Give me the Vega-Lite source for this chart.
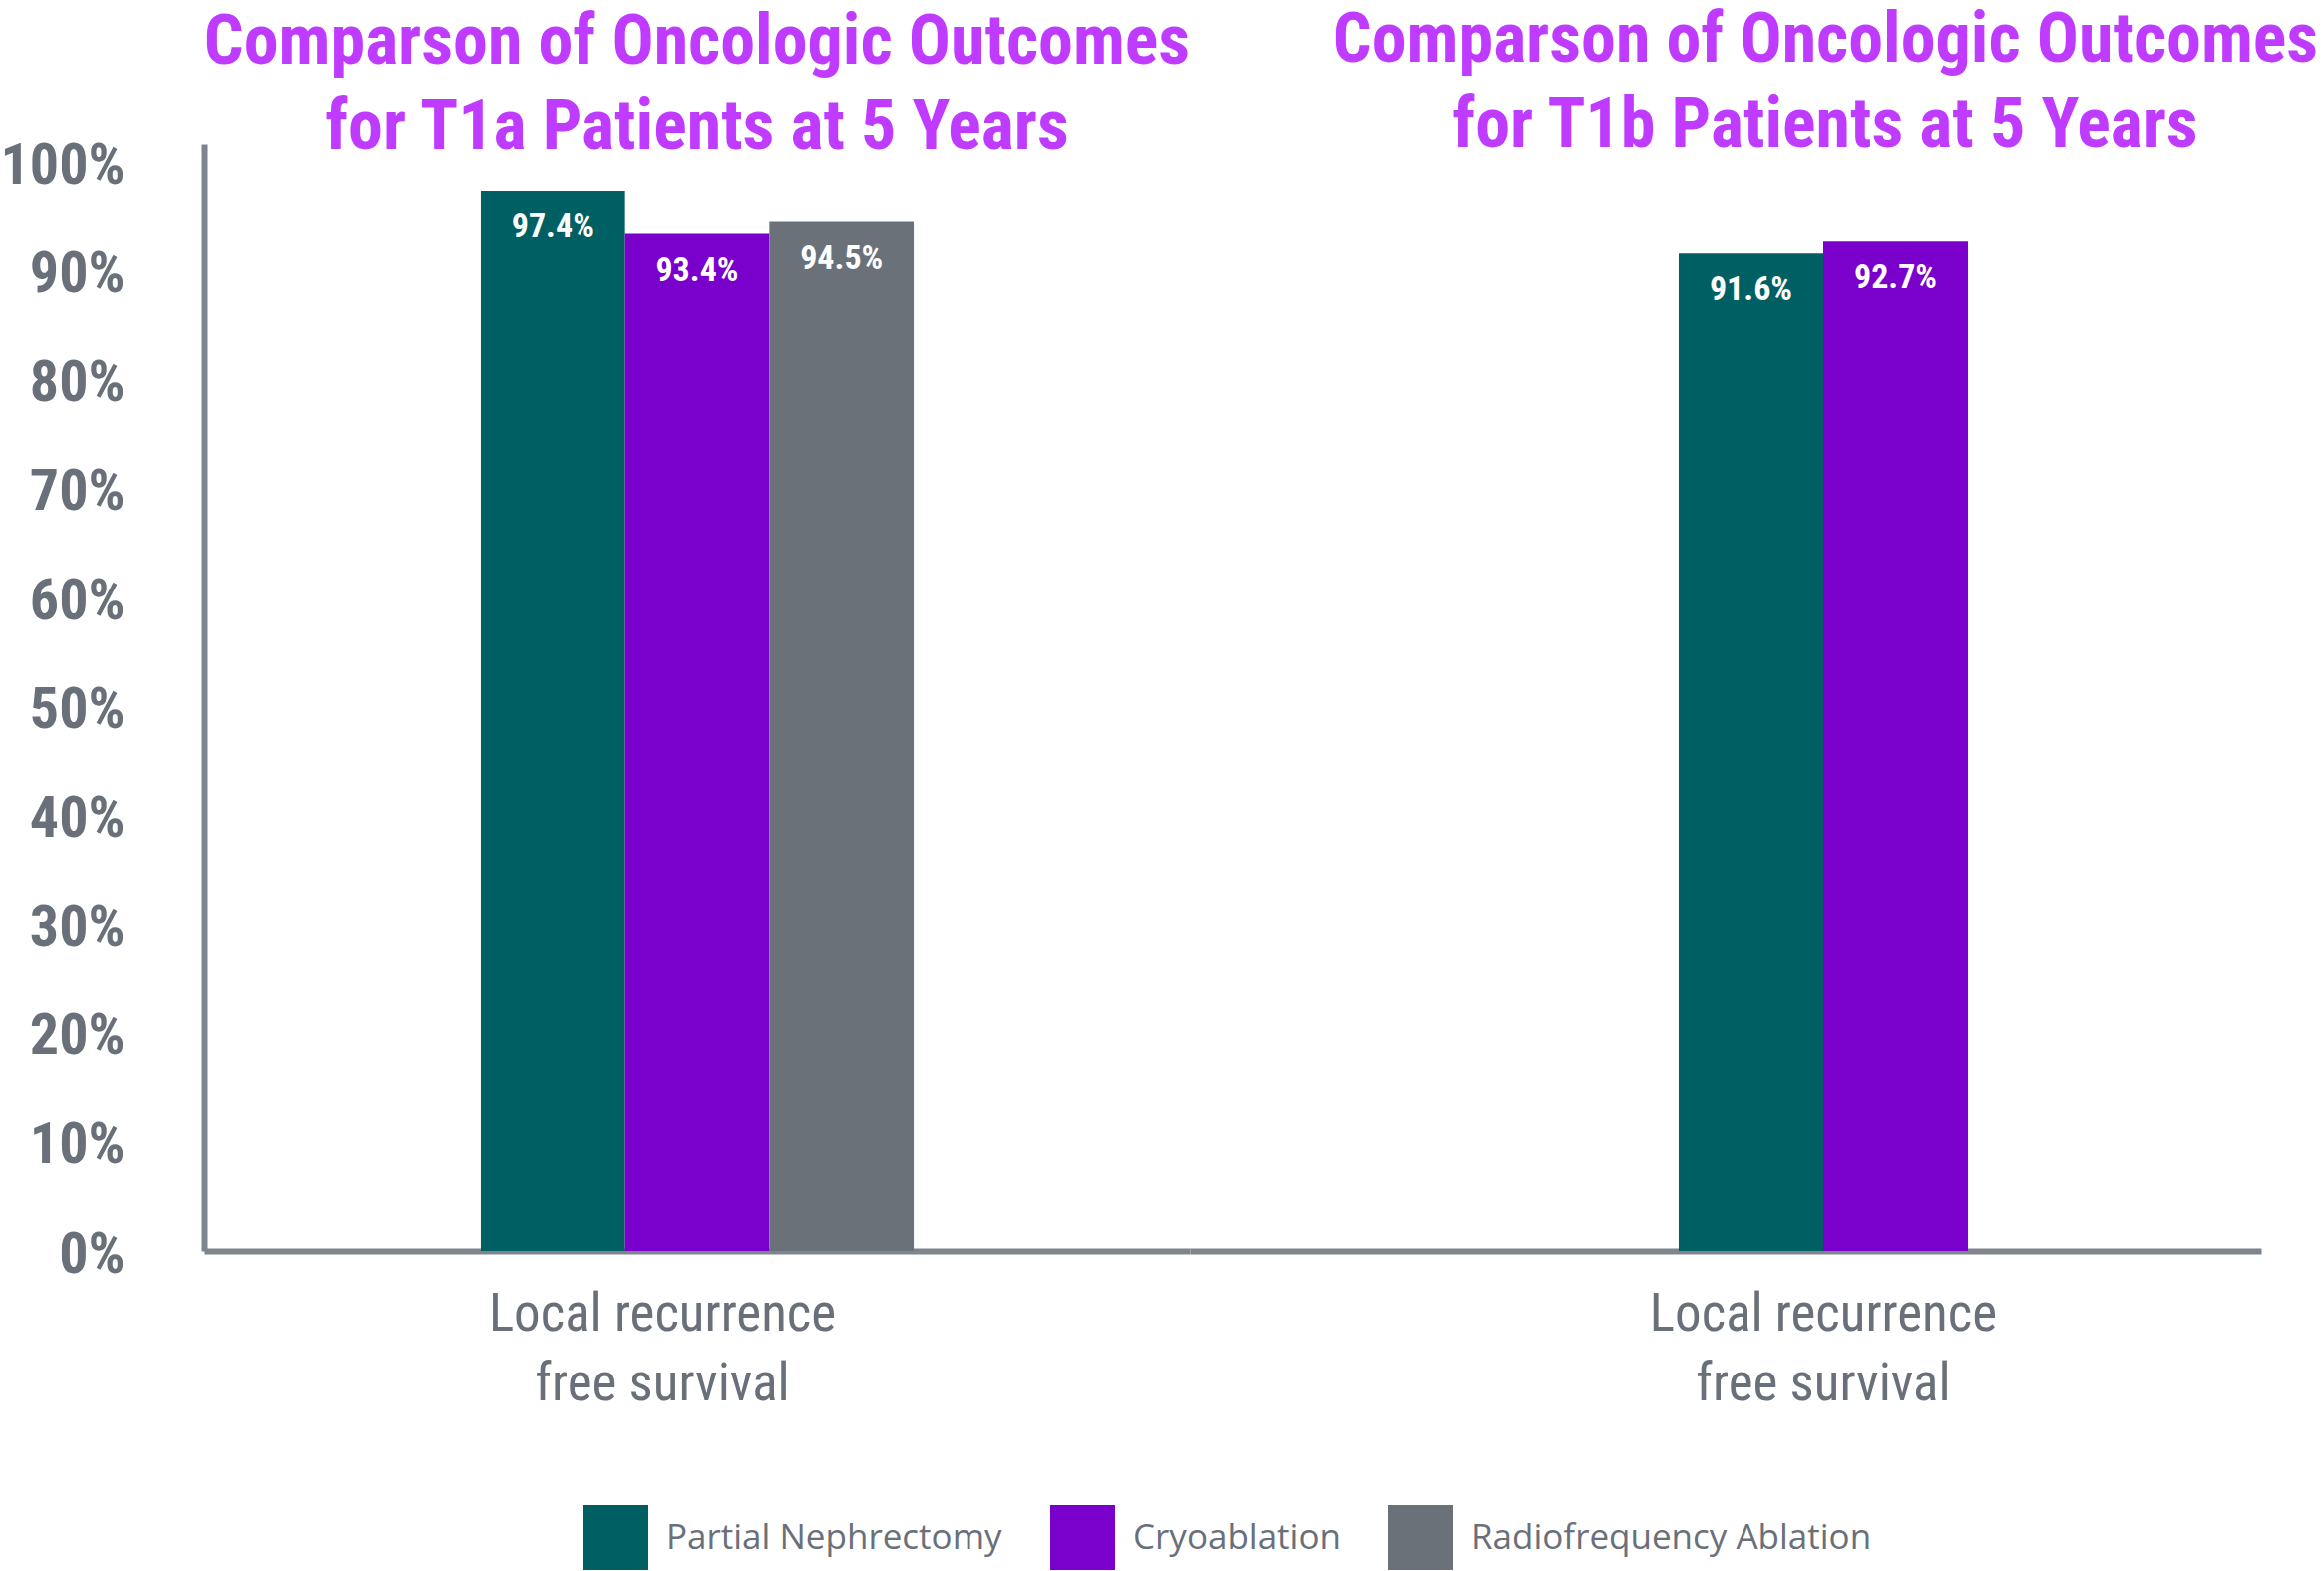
{
  "$schema": "https://vega.github.io/schema/vega-lite/v6.json",
  "background": "white",
  "padding": {"left": 0, "top": 6, "right": 0, "bottom": 0},
  "bounds": "flush",
  "data": {
    "values": [
      {"stage": "T1a", "measure": "Local recurrence free survival", "treatment": "Partial Nephrectomy", "survival": 0.974},
      {"stage": "T1a", "measure": "Local recurrence free survival", "treatment": "Cryoablation", "survival": 0.934},
      {"stage": "T1a", "measure": "Local recurrence free survival", "treatment": "Radiofrequency Ablation", "survival": 0.945},
      {"stage": "T1b", "measure": "Local recurrence free survival", "treatment": "Partial Nephrectomy", "survival": 0.916},
      {"stage": "T1b", "measure": "Local recurrence free survival", "treatment": "Cryoablation", "survival": 0.927}
    ]
  },
  "spacing": 0,
  "hconcat": [
    {
      "title": {
        "text": ["Comparson of Oncologic Outcomes", "for T1a Patients at 5 Years"],
        "anchor": "middle",
        "offset": -26
      },
      "width": 988,
      "height": 1110,
      "transform": [{"filter": "datum.stage === 'T1a'"}],
      "encoding": {
        "x": {
          "field": "measure",
          "type": "nominal",
          "scale": {"paddingInner": 0, "paddingOuter": 0.638},
          "axis": {"labelOffset": -35},
          "title": null
        },
        "xOffset": {
          "field": "treatment",
          "type": "nominal",
          "sort": ["Partial Nephrectomy", "Cryoablation", "Radiofrequency Ablation"],
          "scale": {"paddingInner": 0, "paddingOuter": 0}
        },
        "y": {
          "field": "survival",
          "type": "quantitative",
          "scale": {"domain": [0, 1.017], "nice": false},
          "axis": {
            "values": [0, 0.1, 0.2, 0.3, 0.4, 0.5, 0.6, 0.7, 0.8, 0.9, 1],
            "format": ".0%",
            "grid": false,
            "ticks": false,
            "domainColor": "#7f858c",
            "domainWidth": 6,
            "labelFont": "'Roboto Condensed', 'DejaVu Sans Condensed', sans-serif",
            "labelFontWeight": "bold",
            "labelFontSize": 58,
            "labelColor": "#6a7079",
            "labelPadding": 80,
            "labelOffset": 4
          },
          "title": null
        }
      },
      "layer": [
        {
          "mark": {"type": "bar"},
          "encoding": {
            "color": {
              "field": "treatment",
              "type": "nominal",
              "scale": {
                "domain": ["Partial Nephrectomy", "Cryoablation", "Radiofrequency Ablation"],
                "range": ["#005f63", "#7a00cc", "#6b7179"]
              },
              "legend": {"orient": "none", "legendX": 380, "legendY": 1365},
              "title": null
            }
          }
        },
        {
          "mark": {
            "type": "text",
            "baseline": "alphabetic",
            "dy": 47,
            "color": "white",
            "font": "'Roboto Condensed', 'DejaVu Sans Condensed', sans-serif",
            "fontWeight": "bold",
            "fontSize": 34
          },
          "encoding": {
            "text": {"field": "survival", "type": "quantitative", "format": ".1%"}
          }
        }
      ]
    },
    {
      "title": {
        "text": ["Comparson of Oncologic Outcomes", "for T1b Patients at 5 Years"],
        "anchor": "middle",
        "dx": 100,
        "offset": -18
      },
      "width": 1074,
      "height": 1110,
      "transform": [{"filter": "datum.stage === 'T1b'"}],
      "encoding": {
        "x": {
          "field": "measure",
          "type": "nominal",
          "scale": {"paddingInner": 0.26, "paddingOuter": 1, "align": 0.625},
          "title": null
        },
        "xOffset": {
          "field": "treatment",
          "type": "nominal",
          "sort": ["Partial Nephrectomy", "Cryoablation"],
          "scale": {"paddingInner": 0, "paddingOuter": 0}
        },
        "y": {
          "field": "survival",
          "type": "quantitative",
          "scale": {"domain": [0, 1.017], "nice": false},
          "axis": null
        }
      },
      "layer": [
        {
          "mark": {"type": "bar"},
          "encoding": {
            "color": {
              "field": "treatment",
              "type": "nominal",
              "scale": {
                "domain": ["Partial Nephrectomy", "Cryoablation", "Radiofrequency Ablation"],
                "range": ["#005f63", "#7a00cc", "#6b7179"]
              },
              "legend": {"orient": "none", "legendX": 380, "legendY": 1365},
              "title": null
            }
          }
        },
        {
          "mark": {
            "type": "text",
            "baseline": "alphabetic",
            "dy": 47,
            "color": "white",
            "font": "'Roboto Condensed', 'DejaVu Sans Condensed', sans-serif",
            "fontWeight": "bold",
            "fontSize": 34
          },
          "encoding": {
            "text": {"field": "survival", "type": "quantitative", "format": ".1%"}
          }
        }
      ]
    }
  ],
  "resolve": {
    "scale": {"x": "independent", "xOffset": "independent", "y": "shared", "color": "shared"}
  },
  "config": {
    "view": {"stroke": null},
    "title": {
      "font": "'Roboto Condensed', 'DejaVu Sans Condensed', sans-serif",
      "fontWeight": "bold",
      "fontSize": 70,
      "lineHeight": 85,
      "color": "#bf3bff"
    },
    "axisX": {
      "ticks": false,
      "domainColor": "#7f858c",
      "domainWidth": 6,
      "labelFont": "'Roboto Condensed', 'DejaVu Sans Condensed', sans-serif",
      "labelFontSize": 53,
      "labelLineHeight": 70,
      "labelLimit": 800,
      "labelColor": "#6a7079",
      "labelPadding": 37,
      "labelAngle": 0,
      "labelExpr": "split(replace(datum.label, ' free', '|free'), '|')"
    },
    "legend": {
      "direction": "horizontal",
      "symbolType": "square",
      "symbolSize": 4225,
      "symbolStrokeWidth": 0,
      "symbolOpacity": 1,
      "labelFont": "Open Sans",
      "labelFontSize": 35,
      "labelColor": "#6a7079",
      "labelOffset": 18,
      "labelLimit": 600,
      "columnPadding": 48
    }
  }
}
